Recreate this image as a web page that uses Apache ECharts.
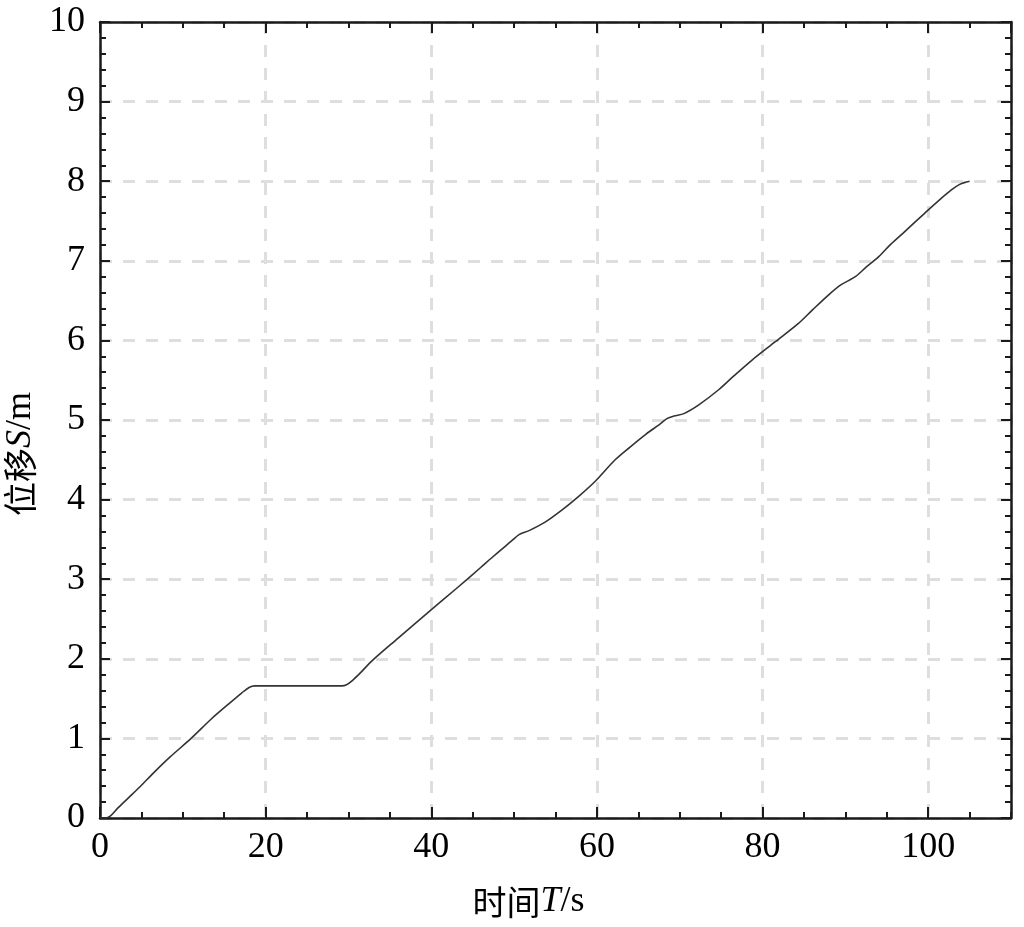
<!DOCTYPE html>
<html>
<head>
<meta charset="utf-8">
<script src="https://cdn.jsdelivr.net/npm/echarts@6/dist/echarts.min.js"></script>
<style>
  html, body { margin: 0; padding: 0; background: #fff; }
  #chart { width: 1024px; height: 927px; }
</style>
</head>
<body>
<div id="chart"></div>
<script>
// 时间 T (s) 与 位移 S (m)，读图估计
const timeData = [0, 0.6, 1.2, 2.2, 3.4, 4.8, 6.5, 8.5, 11.0, 13.5, 15.5, 17.1, 18.0, 18.7, 19.5,
  22, 25, 28, 29.2, 29.7, 30.5, 31.5, 32.9, 36, 39.8, 43, 46, 47.2, 49.0, 49.8, 50.6, 51.8, 53.8,
  55.8, 57.8, 59.8, 62.2, 64, 65.9, 67.5, 68.5, 69.3, 70.5, 72.3, 74.7, 76.5, 78.7, 81.5, 84.3,
  86, 87.95, 89.5, 91.2, 92.5, 94.0, 95.5, 97.2, 99.6, 101.2, 102.8, 103.8, 104.6, 105.0];
const dispData = [0, 0, 0.02, 0.13, 0.25, 0.39, 0.57, 0.77, 1.0, 1.25, 1.43, 1.57, 1.64, 1.66, 1.66,
  1.66, 1.66, 1.66, 1.66, 1.67, 1.73, 1.83, 1.98, 2.26, 2.60, 2.88, 3.15, 3.26, 3.42, 3.49, 3.56, 3.61, 3.72,
  3.87, 4.04, 4.23, 4.50, 4.66, 4.82, 4.94, 5.02, 5.05, 5.08, 5.19, 5.38, 5.55, 5.75, 5.98, 6.21,
  6.38, 6.57, 6.70, 6.80, 6.92, 7.05, 7.21, 7.37, 7.60, 7.75, 7.89, 7.96, 7.99, 8.0];

const xTicks = { min: 0, max: 110, major: 20, minor: 5 };
const yTicks = { min: 0, max: 10, major: 1 };

const seriesData = timeData.map((t, i) => [t, dispData[i]]);

const FONT = '"Liberation Serif", "Times New Roman", "Noto Sans CJK SC", serif';
const CJK = '"Noto Sans CJK SC", serif';
const black = '#1a1a1a';

const chart = echarts.init(document.getElementById('chart'));

// 主刻度轴(带标签/网格) + 次刻度轴(只画短刻度)，上下左右都画
function xAxisOf(position, interval, len, withLabel) {
  return {
    type: 'value', position: position, min: xTicks.min, max: xTicks.max, interval: interval,
    axisLine: { show: withLabel !== null, onZero: false, lineStyle: { color: black, width: 2.5 } },
    axisTick: { show: true, inside: true, length: len, lineStyle: { color: black, width: 2 } },
    axisLabel: withLabel ? {
      show: true, margin: 12, fontFamily: FONT, fontSize: 36, color: '#000', showMaxLabel: false
    } : { show: false },
    splitLine: withLabel ? {
      show: true, lineStyle: { color: '#dedede', width: 3, type: [12, 11] }
    } : { show: false }
  };
}

function yAxisOf(position, withLabel) {
  return {
    type: 'value', position: position, min: yTicks.min, max: yTicks.max, interval: yTicks.major,
    axisLine: { show: true, onZero: false, lineStyle: { color: black, width: 2.5 } },
    axisTick: { show: true, inside: true, length: 10, lineStyle: { color: black, width: 2 } },
    minorTick: { show: true, splitNumber: 5, length: 6, lineStyle: { color: black, width: 2 } },
    axisLabel: withLabel ? {
      show: true, margin: 15, fontFamily: FONT, fontSize: 36, color: '#000'
    } : { show: false },
    splitLine: withLabel ? {
      show: true, lineStyle: { color: '#dedede', width: 3, type: [12, 11] }
    } : { show: false }
  };
}

const xMain = xAxisOf('bottom', xTicks.major, 11, true);
xMain.name = '{a|时间}{b|T}{c|/s}';
xMain.nameLocation = 'middle';
xMain.nameGap = 66;
xMain.nameTextStyle = {
  padding: [0, 54, 0, 0],
  rich: {
    a: { fontFamily: CJK, fontSize: 34, color: '#000' },
    b: { fontFamily: FONT, fontSize: 36, fontStyle: 'italic', color: '#000' },
    c: { fontFamily: FONT, fontSize: 36, color: '#000' }
  }
};

const yMain = yAxisOf('left', true);
yMain.name = '{a|位移}{b|S}{c|/m}';
yMain.nameLocation = 'middle';
yMain.nameRotate = 90;
yMain.nameGap = 58;
yMain.nameTextStyle = {
  padding: [0, 68, 0, 0],
  rich: {
    a: { fontFamily: CJK, fontSize: 34, color: '#000' },
    b: { fontFamily: FONT, fontSize: 36, fontStyle: 'italic', color: '#000' },
    c: { fontFamily: FONT, fontSize: 36, color: '#000' }
  }
};

chart.setOption({
  backgroundColor: '#fff',
  animation: false,
  grid: { left: 100, right: 13, top: 22, bottom: 109, containLabel: false, outerBoundsMode: 'none' },
  xAxis: [
    xMain,
    xAxisOf('top', xTicks.major, 11, false),
    xAxisOf('bottom', xTicks.minor, 6, null),
    xAxisOf('top', xTicks.minor, 6, null)
  ],
  yAxis: [
    yMain,
    yAxisOf('right', false)
  ],
  series: [{
    type: 'line',
    xAxisIndex: 0,
    yAxisIndex: 0,
    data: seriesData,
    showSymbol: false,
    smooth: 0.3,
    lineStyle: { color: '#333', width: 1.6 }
  }]
});
</script>
</body>
</html>
